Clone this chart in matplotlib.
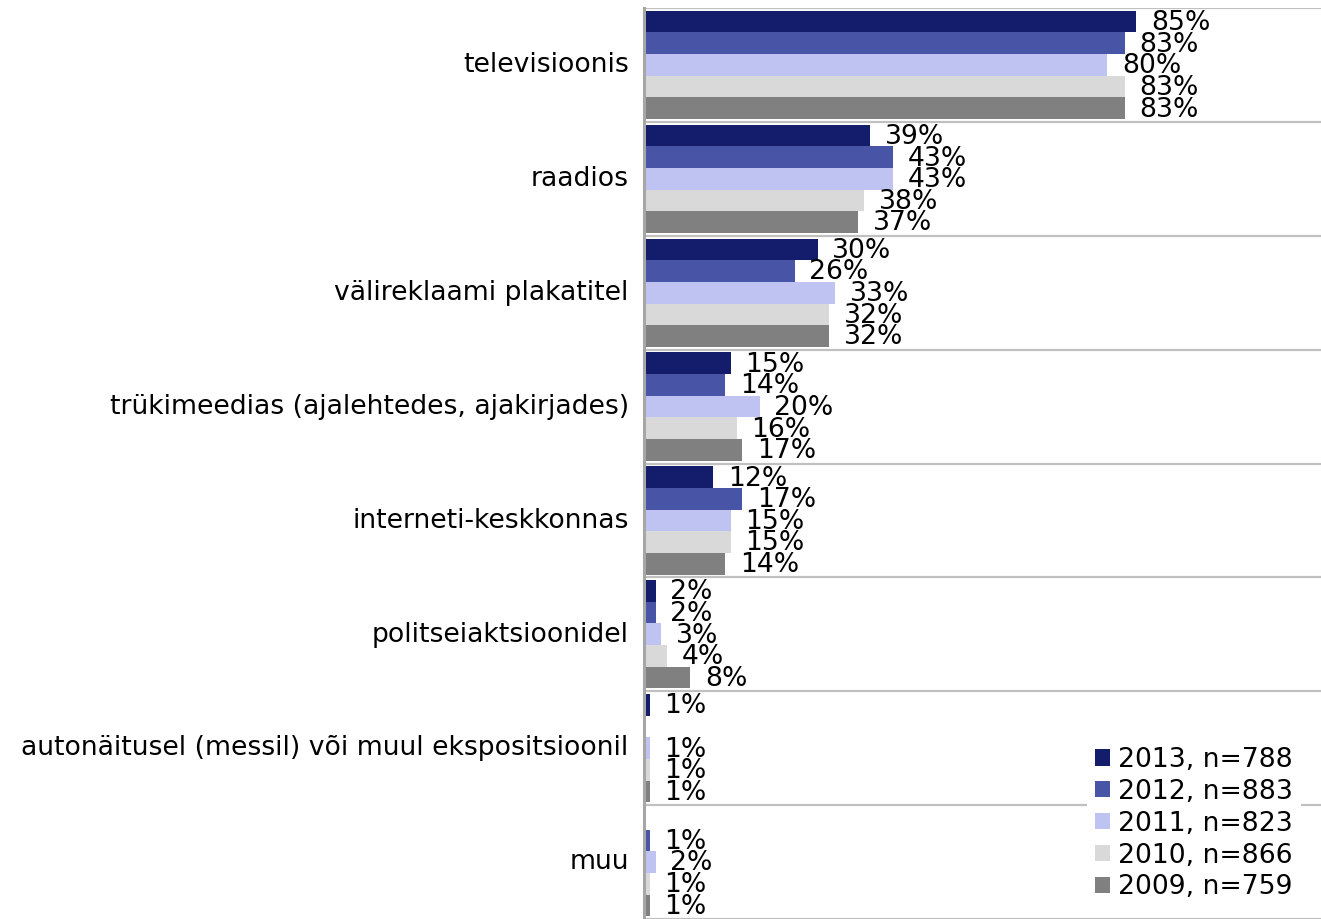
import numpy as np
import matplotlib
matplotlib.use("Agg")
import matplotlib.pyplot as plt
import matplotlib.transforms as mtransforms
from matplotlib.patches import Patch

categories = [
    "televisioonis",
    "raadios",
    "välireklaami plakatitel",
    "trükimeedias (ajalehtedes, ajakirjades)",
    "interneti-keskkonnas",
    "politseiaktsioonidel",
    "autonäitusel (messil) või muul ekspositsioonil",
    "muu",
]
series_names = ["2013, n=788", "2012, n=883", "2011, n=823", "2010, n=866", "2009, n=759"]
v2013 = [85, 39, 30, 15, 12, 2, 1, None]
v2012 = [83, 43, 26, 14, 17, 2, None, 1]
v2011 = [80, 43, 33, 20, 15, 3, 1, 2]
v2010 = [83, 38, 32, 16, 15, 4, 1, 1]
v2009 = [83, 37, 32, 17, 14, 8, 1, 1]
series = [v2013, v2012, v2011, v2010, v2009]
colors = ["#141c6c", "#4855a6", "#bec3f1", "#d9d9d9", "#808080"]

FS = 19.2
plt.rcParams['font.family'] = ['DejaVu Sans']
fig = plt.figure(figsize=(13.21, 9.19), dpi=100)
ax = fig.add_axes([644/1321, 0.0, 1 - 644/1321, 1 - 8/919])

bh = 0.19
y = np.arange(len(categories))
for k, (vals, col) in enumerate(zip(series, colors)):
    off = (k - 2) * bh
    for i, v in enumerate(vals):
        if v is None:
            continue
        ax.barh(y[i] + off, v, height=bh, color=col, edgecolor='none')
        ax.annotate(f"{v}%", xy=(v, y[i] + off), xytext=(10.5, -1),
                    textcoords='offset points', va='center', ha='left',
                    fontsize=FS, color='black')

ax.set_xlim(0, 116.9)
ax.set_ylim(len(categories) - 0.5, -0.5)
for b in np.arange(-0.5, len(categories), 1.0):
    ax.axhline(b, color='#c0c0c0', lw=1.6, zorder=0.5)

ax.set_yticks(y)
ax.set_yticklabels(categories, fontsize=FS)
ax.tick_params(axis='y', length=0, pad=11)
shift = mtransforms.ScaledTranslation(0, 2 / 72, fig.dpi_scale_trans)
for lab in ax.get_yticklabels():
    lab.set_transform(lab.get_transform() + shift)
ax.set_xticks([])
for s in ['top', 'right', 'bottom']:
    ax.spines[s].set_visible(False)
ax.spines['left'].set_color('#a6a6a6')
ax.spines['left'].set_linewidth(2.2)

handles = [Patch(facecolor=c, edgecolor='none') for c in colors]
leg = ax.legend(handles, series_names, loc='lower right', bbox_to_anchor=(0.99, -0.003),
                fontsize=FS, frameon=True, framealpha=1, edgecolor='none',
                handlelength=0.55, handleheight=0.55, handletextpad=0.3,
                labelspacing=0.22, borderpad=0.3)
leg.get_frame().set_facecolor('white')
leg.set_zorder(5)

fig.savefig("out.png", dpi=100)
